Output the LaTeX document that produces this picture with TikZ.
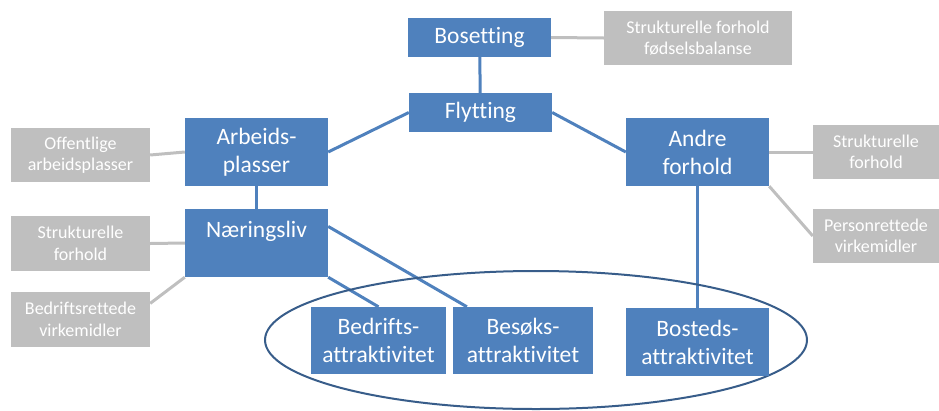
\documentclass[tikz,border=0pt]{standalone}
\usepackage{fontspec}
\setmainfont{Carlito}[Ligatures=NoCommon]
\usetikzlibrary{backgrounds}
\definecolor{blaa}{HTML}{4F81BD}
\definecolor{graa}{HTML}{BFBFBF}
\definecolor{ramme}{HTML}{385D8A}
\tikzset{
  blok/.style={fill=blaa, text=white, inner sep=0pt, align=center,
    font=\fontsize{23.5}{28}\selectfont},
  graaboks/.style={fill=graa, text=white, inner sep=0pt, align=center,
    font=\fontsize{18}{21.5}\selectfont},
  blaalinje/.style={draw=blaa, line width=3pt},
  graalinje/.style={draw=graa, line width=3pt}
}
\begin{document}
\begin{tikzpicture}[x=1pt,y=-1pt]
\useasboundingbox (0,0) rectangle (939,410);
% ellipse round the attraktivitet boxes
\draw[ramme, line width=2pt] (536,340) ellipse (271 and 69);
% blue boxes
\node[blok, minimum width=143, minimum height=39] (bos) at (479.5,37.5) {Bosetting};
\node[blok, minimum width=143, minimum height=39] (fly) at (480.5,112.5) {Flytting};
\node[blok, minimum width=143, minimum height=68] (arb) at (256.5,152) {Arbeids-\\plasser};
\node[blok, minimum width=143, minimum height=68] (nar) at (256.5,243) {Næringsliv\\\mbox{}};
\node[blok, minimum width=143, minimum height=68] (andre) at (697.5,152) {Andre\\forhold};
\node[blok, minimum width=135, minimum height=67] (bedr) at (378.5,340.5) {Bedrifts-\\attraktivitet};
\node[blok, minimum width=140, minimum height=67] (besok) at (523,340.5) {Besøks-\\attraktivitet};
\node[blok, minimum width=143, minimum height=68] (bost) at (697.5,342) {Bosteds-\\attraktivitet};
% gray boxes
\node[graaboks, minimum width=188, minimum height=54] (fods) at (698,38) {Strukturelle forhold\\fødselsbalanse};
\node[graaboks, minimum width=139, minimum height=54] (off) at (80.5,155) {Offentlige\\arbeidsplasser};
\node[graaboks, minimum width=139, minimum height=55] (strv) at (80.5,243.5) {Strukturelle\\forhold};
\node[graaboks, minimum width=139, minimum height=55] (bvirk) at (80.5,319.5) {Bedriftsrettede\\virkemidler};
\node[graaboks, minimum width=126, minimum height=54] (strh) at (876,152) {Strukturelle\\forhold};
\node[graaboks, minimum width=126, minimum height=54] (pvirk) at (876,236) {Personrettede\\virkemidler};
% connectors
\begin{scope}[on background layer]
\draw[blaalinje] (bos) -- (fly);
\draw[blaalinje] (arb.east) -- (fly.west);
\draw[blaalinje] (fly.east) -- (andre.west);
\draw[blaalinje] (arb) -- (nar);
\draw[blaalinje] (nar.south east) -- (bedr.north);
\draw[blaalinje] (nar.13) -- (besok.149);
\draw[blaalinje] (andre.south) -- (bost.north);
\draw[graalinje] (bos.east) -- (fods.west);
\draw[graalinje] (off.east) -- (arb.west);
\draw[graalinje] (strv.east) -- (nar.west);
\draw[graalinje] (bvirk.13) -- (nar.south west);
\draw[graalinje] (andre.east) -- (strh.west);
\draw[graalinje] (andre.south east) -- (pvirk.west);
\end{scope}
\end{tikzpicture}
\end{document}
